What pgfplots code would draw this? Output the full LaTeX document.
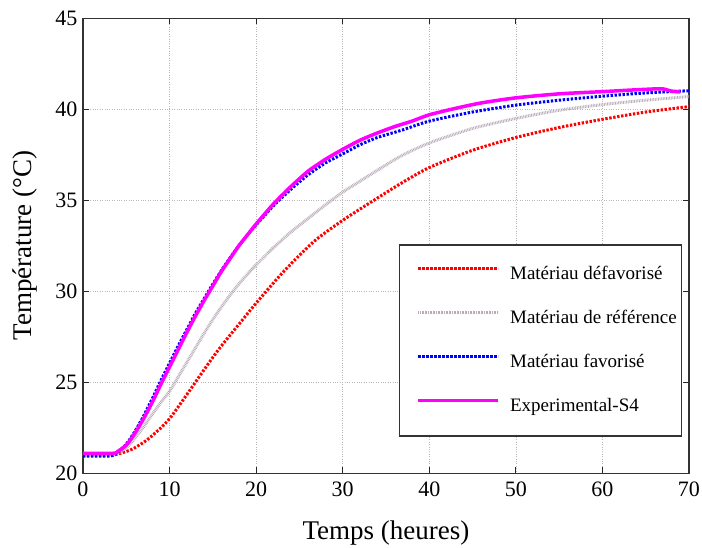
\documentclass[border=0pt]{standalone}
\usepackage{pgfplots}
\pgfplotsset{compat=1.18}
\usepackage{fontspec}
\setmainfont{Liberation Serif}
\definecolor{cRed}{RGB}{255,0,0}
\definecolor{cGray}{RGB}{185,172,185}
\definecolor{cBlue}{RGB}{0,0,255}
\definecolor{cMag}{RGB}{255,0,255}
\begin{document}
\begin{tikzpicture}
\path[use as bounding box] (-83pt,-73.7pt) rectangle (619pt,473.3pt);
\begin{axis}[
  scale only axis,
  width=606pt, height=455pt,
  xmin=0, xmax=70, ymin=20, ymax=45,
  xtick={0,10,...,70}, ytick={20,25,...,45},
  /pgf/number format/assume math mode=true,
  ticklabel style={font=\fontsize{22}{24}\selectfont},
  xticklabel style={yshift=-5pt},
  yticklabel style={xshift=-2pt},
  tick align=inside,
  major tick length=6pt,
  tick style={black!85, line width=0.9pt},
  axis line style={black!80, line width=1.3pt},
  grid=major,
  major grid style={black!28, dotted, line width=0.7pt},
  xlabel={Temps (heures)},
  ylabel={Température (°C)},
  label style={font=\fontsize{27}{29}\selectfont},
  xlabel style={at={(axis description cs:0.5,-0.1452)}, anchor=base},
  ylabel style={at={(axis description cs:-0.0953,0.5)}, anchor=center, rotate=0},
  legend cell align=left,
  legend image code/.code={\draw[#1] (12pt,6pt) -- (92pt,6pt); \path (0pt,6pt);},
  legend style={at={(rel axis cs:0.989,0.503)}, anchor=north east,
    draw=black!80, line width=1.1pt,
    font=\fontsize{19}{22}\selectfont,
    inner xsep=5pt, inner ysep=20pt, row sep=25pt,
    nodes={inner sep=0pt, text height=15pt, text depth=4pt},
    /tikz/every odd column/.append style={column sep=10pt}},
]
\addplot[cRed, line width=3pt, dash pattern=on 2.4pt off 1.6pt, smooth, tension=0.4] coordinates {
(0,21.0) (3,21.0) (4,21.05) (5,21.2) (5.8,21.35) (7,21.7) (7.75,21.97) (9,22.5) (10,23.0) (11,23.65) (12.4,24.6) (14,25.7) (15.5,26.7) (17,27.6) (18.2,28.3) (20,29.35) (23.2,31.1) (26.7,32.75) (30,33.9) (33.6,35.0) (36.8,35.95) (40,36.8) (45,37.75) (50,38.45) (55,39.0) (60,39.45) (65,39.85) (70,40.15)};
\addlegendentry{Matériau défavorisé}
\addplot[cGray, line width=3pt, dash pattern=on 0.8pt off 0.8pt, smooth, tension=0.4] coordinates {
(0,21.0) (3,21.0) (4,21.1) (5,21.4) (5.8,21.8) (7,22.55) (7.75,23.07) (9,23.9) (10,24.5) (11,25.3) (12,26.1) (13,26.9) (14,27.7) (15,28.45) (16,29.15) (17,29.8) (18,30.4) (19,30.95) (20,31.45) (22,32.4) (24,33.25) (26,34.0) (28,34.75) (30,35.45) (32,36.05) (34,36.65) (36.8,37.45) (40,38.15) (45,38.95) (50,39.5) (55,39.95) (60,40.26) (65,40.5) (70,40.7)};
\addlegendentry{Matériau de référence}
\addplot[cBlue, line width=3pt, dash pattern=on 2.4pt off 1.6pt, smooth, tension=0.4] coordinates {
(0,20.95) (3,20.95) (3.5,21.0) (4,21.15) (5,21.6) (6,22.3) (7,23.15) (8,24.1) (9,25.1) (10,26.05) (11,27.0) (12,27.9) (13,28.8) (14,29.6) (15,30.4) (16,31.15) (17,31.85) (18,32.5) (19,33.1) (20,33.65) (22,34.7) (24,35.6) (26,36.4) (28,37.05) (30,37.55) (32,38.05) (34,38.45) (36.8,38.85) (40,39.35) (45,39.85) (50,40.23) (55,40.5) (60,40.72) (65,40.9) (70,41.02)};
\addlegendentry{Matériau favorisé}
\addplot[cMag, line width=3.5pt, smooth, tension=0.4] coordinates {
(0,21.1) (3.5,21.1) (4,21.2) (5,21.55) (6,22.2) (7,23.0) (8,23.9) (9,24.9) (10,25.85) (11,26.8) (12,27.75) (13,28.65) (14,29.5) (15,30.3) (16,31.1) (17,31.8) (18,32.5) (19,33.1) (20,33.7) (22,34.8) (24,35.75) (26,36.6) (28,37.25) (30,37.8) (32,38.3) (34,38.7) (36,39.05) (38,39.35) (40,39.7) (43,40.05) (46,40.35) (50,40.63) (55,40.85) (60,40.97) (63,41.05) (66,41.12) (67,41.12) (68,41.0) (69,40.95)};
\addlegendentry{Experimental-S4}
\end{axis}
\end{tikzpicture}
\end{document}
